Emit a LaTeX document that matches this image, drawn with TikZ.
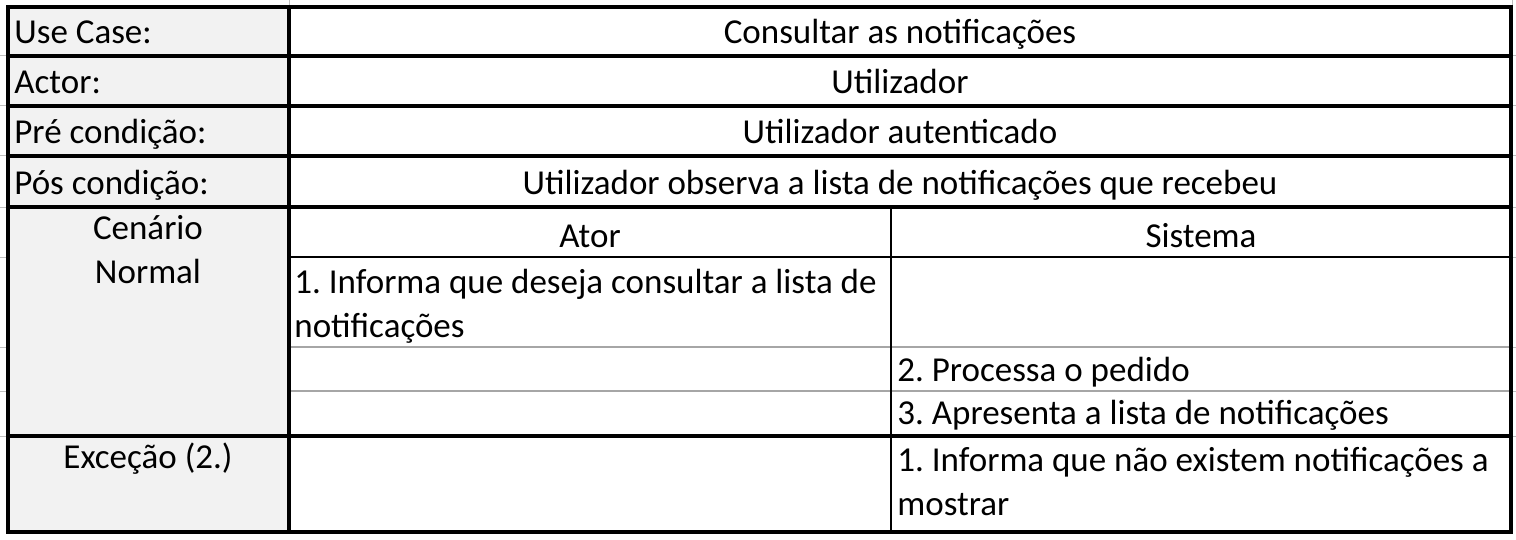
\documentclass[tikz,border=0pt]{standalone}
\usepackage{fontspec}
\setmainfont{Carlito}
\usetikzlibrary{positioning}
\frenchspacing
\tikzset{
  thickrule/.style={line width=1.9pt, color=black},
  thinrule/.style={line width=0.6pt, color=black},
  gridrule/.style={line width=0.6pt, color=black!35},
  stubrule/.style={line width=0.5pt, color=black!25},
  celltext/.style={inner sep=0pt, font=\fontsize{17.5}{22}\selectfont},
}

\begin{document}
\begin{tikzpicture}[x=0.5pt, y=-0.5pt]
			%%%%% START %%%%%
			\useasboundingbox (0, 0) rectangle (1516, 540);
			
			% label column
			\fill[black!5] (8, 7) rectangle (289, 532);
			
			% spreadsheet gridline stubs
			\foreach \y in {56, 106, 156, 207, 257, 347, 391, 436} {
				\draw[stubrule] (0, \y) -- (6, \y);
				\draw[stubrule] (1512, \y) -- (1516, \y);
			}
			\draw[stubrule] (289, 0) -- (289, 6);
			\draw[stubrule] (1512, 0) -- (1512, 6);
			
			% inner rules
			\draw[gridrule] (289, 347) -- (1511, 347);
			\draw[gridrule] (289, 391) -- (1511, 391);
			\draw[thinrule] (289, 257) -- (1511, 257);
			\draw[thinrule] (891, 207) -- (891, 532);
			
			% borders
			\draw[thickrule] (8, 7) rectangle (1511, 532);
			\foreach \y in {56, 106, 156, 207, 436}
				\draw[thickrule] (8, \y) -- (1511, \y);
			\draw[thickrule] (289, 7) -- (289, 532);
			
			% labels
			\node[celltext, anchor=base west] (usecase) at (14, 44) {Use Case:};
			\node[celltext, anchor=base west] (actor) at (14, 94) {Actor:};
			\node[celltext, anchor=base west] (pre) at (14, 144) {Pré condição:};
			\node[celltext, anchor=base west] (pos) at (14, 194) {Pós condição:};
			\node[celltext, anchor=base, align=center] (normal) at (148, 283) {Cenário\\Normal};
			\node[celltext, anchor=base] (excecao) at (148, 468) {Exceção (2.)};
			
			% values
			\node[celltext, anchor=base] (usecaseval) at (900, 44) {Consultar as notificações};
			\node[celltext, anchor=base] (actorval) at (900, 94) {Utilizador};
			\node[celltext, anchor=base] (preval) at (900, 144) {Utilizador autenticado};
			\node[celltext, anchor=base] (posval) at (900, 194) {Utilizador observa a lista de notificações que recebeu};
			
			% scenario
			\node[celltext, anchor=base] (ator) at (590, 247) {Ator};
			\node[celltext, anchor=base] (sistema) at (1201, 247) {Sistema};
			\node[celltext, anchor=base west, align=left] (passo1) at (294, 337) {1. Informa que deseja consultar a lista de\\notificações};
			\node[celltext, anchor=base west] (passo2) at (897, 381) {2. Processa o pedido};
			\node[celltext, anchor=base west] (passo3) at (897, 424) {3. Apresenta a lista de notificações};
			\node[celltext, anchor=base west, align=left] (exc1) at (897, 515) {1. Informa que não existem notificações a\\mostrar};
			
			%%%%% END %%%%%
\end{tikzpicture}
\end{document}
